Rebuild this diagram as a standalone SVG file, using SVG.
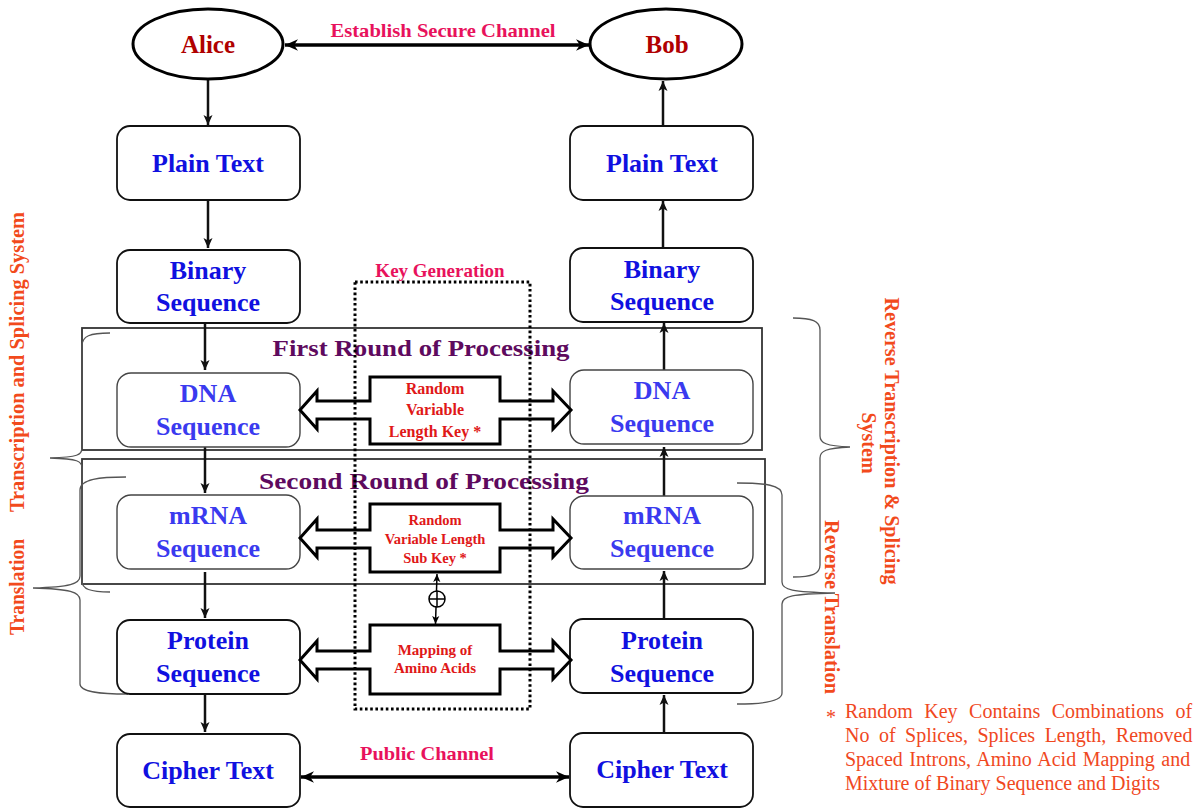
<svg xmlns="http://www.w3.org/2000/svg" width="1198" height="810" viewBox="0 0 1198 810">
<style>
text{font-family:"Liberation Serif","Times New Roman",serif}
.ell{fill:#fff;stroke:#000;stroke-width:3}
.box{fill:#fff;stroke:#111;stroke-width:1.8}
.gbox{fill:#fff;stroke:#444;stroke-width:1.4}
.round{fill:none;stroke:#333;stroke-width:1.8}
.nt{fill:#1010e0;font-weight:bold;font-size:26px;text-anchor:middle}
.lt{fill:#3a3aef;font-weight:bold;font-size:26px;text-anchor:middle}
.who{fill:#b00000;font-weight:bold;font-size:25px;text-anchor:middle}
.pink{fill:#e8125c;font-weight:bold;font-size:19px;text-anchor:middle}
.purp{fill:#5e0a5e;font-weight:bold;font-size:24px;text-anchor:middle}
.key{fill:#e01818;font-weight:bold;text-anchor:middle}
.side{fill:#f24a1c;font-weight:bold;font-size:20px;text-anchor:middle}
.foot{fill:#f0481e;font-size:20px}
.con{stroke:#111;stroke-width:2.5;fill:none}
.thick{stroke:#000;stroke-width:3.5;fill:none}
.blk{fill:#fff;stroke:#000;stroke-width:3;stroke-linejoin:miter}
.brace{fill:none;stroke:#555;stroke-width:1.3}
</style>
<defs>
<marker id="ah" viewBox="0 0 10 10" refX="10" refY="5" markerWidth="10" markerHeight="10" markerUnits="userSpaceOnUse" orient="auto-start-reverse"><path d="M0,0.5 L10,5 L0,9.5 L2.5,5 z" fill="#111"/></marker>
<marker id="ahb" viewBox="0 0 10 10" refX="10" refY="5" markerWidth="13" markerHeight="13" markerUnits="userSpaceOnUse" orient="auto-start-reverse"><path d="M0,0.5 L10,5 L0,9.5 L3,5 z" fill="#000"/></marker>
<marker id="ahs" viewBox="0 0 10 10" refX="10" refY="5" markerWidth="8" markerHeight="8" markerUnits="userSpaceOnUse" orient="auto-start-reverse"><path d="M0,0.5 L10,5 L0,9.5 L2.5,5 z" fill="#000"/></marker>
</defs>

<g id="rounds">
<rect x="82" y="328" width="680" height="122" class="round"/>
<rect x="82" y="459" width="683" height="125" class="round"/>
<text x="421" y="356" class="purp" textLength="297" lengthAdjust="spacingAndGlyphs">First Round of Processing</text>
<text x="424" y="489" class="purp" textLength="330" lengthAdjust="spacingAndGlyphs">Second Round of Processing</text>
</g>

<g id="braces">
<path class="brace" d="M110,333 C90,333 82,336 82,346 L82,448 C82,455 78,457 50,458 C78,459 82,461 82,468 L82,581 C82,589 90,592 110,592"/>
<path class="brace" d="M126,477 C100,477 80,479 80,490 L80,576 C80,584 70,587 33,588 C70,589 80,592 80,600 L80,684 C80,692 100,694 128,694"/>
<path class="brace" d="M793,318 C812,318 820,321 820,330 L820,436 C820,443 826,446 850,447 C826,448 820,451 820,458 L820,565 C820,574 812,577 793,577"/>
<path class="brace" d="M737,483 C765,483 782,485 782,495 L782,582 C782,590 792,592 835,593 C792,594 782,596 782,604 L782,693 C782,701 765,704 737,704"/>
</g>

<g id="connectors">
<line x1="285" y1="45" x2="589" y2="45" class="thick" marker-start="url(#ahb)" marker-end="url(#ahb)"/>
<line x1="301" y1="777" x2="569" y2="777" class="thick" marker-start="url(#ahb)" marker-end="url(#ahb)"/>
<line x1="208" y1="80" x2="208" y2="125" class="con" marker-end="url(#ah)"/>
<line x1="208" y1="200" x2="208" y2="248" class="con" marker-end="url(#ah)"/>
<line x1="205" y1="323" x2="205" y2="370" class="con" marker-end="url(#ah)"/>
<line x1="205" y1="447" x2="205" y2="493" class="con" marker-end="url(#ah)"/>
<line x1="205" y1="572" x2="205" y2="618" class="con" marker-end="url(#ah)"/>
<line x1="205" y1="694" x2="205" y2="732" class="con" marker-end="url(#ah)"/>
<line x1="663" y1="126" x2="663" y2="81" class="con" marker-end="url(#ah)"/>
<line x1="663" y1="248" x2="663" y2="201" class="con" marker-end="url(#ah)"/>
<line x1="664" y1="370" x2="664" y2="323" class="con" marker-end="url(#ah)"/>
<line x1="664" y1="496" x2="664" y2="447" class="con" marker-end="url(#ah)"/>
<line x1="664" y1="619" x2="664" y2="571" class="con" marker-end="url(#ah)"/>
<line x1="664" y1="733" x2="664" y2="695" class="con" marker-end="url(#ah)"/>
<line x1="437" y1="574" x2="435.5" y2="624" stroke="#000" stroke-width="1.5" marker-start="url(#ahs)" marker-end="url(#ahs)"/>
</g>

<g id="alice">
<ellipse cx="208" cy="44" rx="75" ry="35" class="ell"/>
<text x="208" y="53" class="who">Alice</text>
</g>
<g id="bob">
<ellipse cx="666" cy="44" rx="76" ry="35" class="ell"/>
<text x="667" y="53" class="who">Bob</text>
</g>
<text x="443" y="37" class="pink" textLength="225" lengthAdjust="spacingAndGlyphs">Establish Secure Channel</text>
<text x="427" y="760" class="pink" textLength="134" lengthAdjust="spacingAndGlyphs">Public Channel</text>

<g id="plain-left"><rect x="117" y="126" width="183" height="74" rx="13" class="box"/><text x="208" y="172" class="nt">Plain Text</text></g>
<g id="plain-right"><rect x="570" y="126" width="183" height="74" rx="13" class="box"/><text x="662" y="172" class="nt">Plain Text</text></g>
<g id="binary-left"><rect x="117" y="250" width="183" height="73" rx="13" class="box"/><text x="208" y="279" class="nt">Binary</text><text x="208" y="311" class="nt">Sequence</text></g>
<g id="binary-right"><rect x="570" y="248" width="183" height="74" rx="13" class="box"/><text x="662" y="278" class="nt">Binary</text><text x="662" y="310" class="nt">Sequence</text></g>
<g id="dna-left"><rect x="117" y="373" width="183" height="74" rx="14" class="gbox"/><text x="208" y="402" class="lt">DNA</text><text x="208" y="435" class="lt">Sequence</text></g>
<g id="dna-right"><rect x="570" y="370" width="183" height="74" rx="14" class="gbox"/><text x="662" y="399" class="lt">DNA</text><text x="662" y="432" class="lt">Sequence</text></g>
<g id="mrna-left"><rect x="117" y="495" width="183" height="74" rx="14" class="gbox"/><text x="208" y="524" class="lt">mRNA</text><text x="208" y="557" class="lt">Sequence</text></g>
<g id="mrna-right"><rect x="570" y="496" width="183" height="73" rx="14" class="gbox"/><text x="662" y="524" class="lt">mRNA</text><text x="662" y="557" class="lt">Sequence</text></g>
<g id="protein-left"><rect x="117" y="620" width="183" height="74" rx="13" class="box"/><text x="208" y="649" class="nt">Protein</text><text x="208" y="682" class="nt">Sequence</text></g>
<g id="protein-right"><rect x="570" y="619" width="183" height="74" rx="13" class="box"/><text x="662" y="649" class="nt">Protein</text><text x="662" y="682" class="nt">Sequence</text></g>
<g id="cipher-left"><rect x="117" y="734" width="183" height="73" rx="13" class="box"/><text x="208" y="779" class="nt">Cipher Text</text></g>
<g id="cipher-right"><rect x="570" y="733" width="183" height="74" rx="13" class="box"/><text x="662" y="778" class="nt">Cipher Text</text></g>

<g id="key1">
<path class="blk" d="M300,410 L317,391 L317,401 L370,401 L370,377 L500,377 L500,401 L553,401 L553,391 L571,410 L553,429 L553,419 L500,419 L500,444 L370,444 L370,419 L317,419 L317,429 Z"/>
<text x="435" y="394" class="key" font-size="16">Random</text>
<text x="435" y="415" class="key" font-size="16">Variable</text>
<text x="435" y="437" class="key" font-size="16">Length Key *</text>
</g>
<g id="key2">
<path class="blk" d="M300,538 L317,519 L317,530 L370,530 L370,504 L500,504 L500,530 L553,530 L553,519 L571,538 L553,557 L553,548 L500,548 L500,572 L370,572 L370,548 L317,548 L317,557 Z"/>
<text x="435" y="525" class="key" font-size="14.5">Random</text>
<text x="435" y="544" class="key" font-size="14.5">Variable Length</text>
<text x="435" y="563" class="key" font-size="14.5">Sub Key *</text>
</g>
<g id="key3">
<path class="blk" d="M300,660 L317,641 L317,651 L370,651 L370,625 L500,625 L500,651 L553,651 L553,641 L571,660 L553,679 L553,669 L500,669 L500,694 L370,694 L370,669 L317,669 L317,679 Z"/>
<text x="435" y="655" class="key" font-size="15" font-weight="normal">Mapping of</text>
<text x="435" y="673" class="key" font-size="15" font-weight="normal">Amino Acids</text>
</g>
<g id="xor">
<circle cx="437" cy="599" r="8" fill="#fff" stroke="#000" stroke-width="1.5"/>
<line x1="429" y1="599" x2="445" y2="599" stroke="#000" stroke-width="1.5"/>
<line x1="437" y1="591" x2="437" y2="607" stroke="#000" stroke-width="1.5"/>
</g>

<g id="keygen">
<rect x="355" y="282" width="175" height="427" fill="none" stroke="#000" stroke-width="3" stroke-dasharray="2.6 2.6"/>
<text x="440" y="277" class="pink">Key Generation</text>
</g>

<g id="side-labels">
<text class="side" transform="translate(24,362) rotate(-90)" textLength="300" lengthAdjust="spacingAndGlyphs">Transcription and Splicing System</text>
<text class="side" transform="translate(24,587) rotate(-90)" textLength="96" lengthAdjust="spacingAndGlyphs">Translation</text>
<text class="side" font-weight="normal" transform="translate(885,441) rotate(90)" textLength="287" lengthAdjust="spacingAndGlyphs">Reverse Transcription &amp; Splicing</text>
<text class="side" font-weight="normal" transform="translate(862,443) rotate(90)">System</text>
<text class="side" transform="translate(825,607) rotate(90)" textLength="174" lengthAdjust="spacingAndGlyphs">Reverse Translation</text>
</g>

<g id="footnote">
<text x="826" y="724" class="foot" font-size="22">*</text>
<text x="845" y="718" class="foot" word-spacing="6.5">Random Key Contains Combinations of</text>
<text x="845" y="742" class="foot" word-spacing="4.5">No of Splices, Splices Length, Removed</text>
<text x="845" y="766" class="foot" word-spacing="1.5">Spaced Introns, Amino Acid Mapping and</text>
<text x="845" y="790" class="foot">Mixture of Binary Sequence and Digits</text>
</g>
</svg>
